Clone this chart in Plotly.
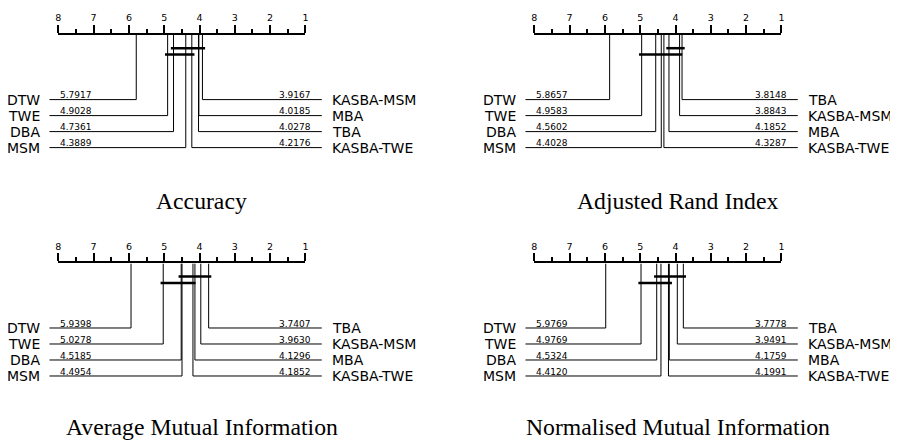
import plotly.graph_objects as go

# ---------------- data ----------------
METHODS = ["DTW", "TWE", "DBA", "MSM", "KASBA-MSM", "MBA", "TBA", "KASBA-TWE"]
ACC_RANKS = [5.7917, 4.9028, 4.7361, 4.3889, 3.9167, 4.0185, 4.0278, 4.2176]
ARI_RANKS = [5.8657, 4.9583, 4.5602, 4.4028, 3.8843, 4.1852, 3.8148, 4.3287]
AMI_RANKS = [5.9398, 5.0278, 4.5185, 4.4954, 3.9630, 4.1296, 3.7407, 4.1852]
NMI_RANKS = [5.9769, 4.9769, 4.5324, 4.4120, 3.9491, 4.1759, 3.7778, 4.1991]

ACC_CLIQUES = [["DBA", "MSM", "KASBA-TWE", "TBA", "MBA", "KASBA-MSM"],
               ["TWE", "DBA", "MSM", "KASBA-TWE"]]
ARI_CLIQUES = [["MBA", "KASBA-MSM", "TBA"],
               ["TWE", "DBA", "MSM", "KASBA-TWE", "MBA", "KASBA-MSM"]]
AMI_CLIQUES = [["DBA", "MSM", "KASBA-TWE", "MBA", "KASBA-MSM", "TBA"],
               ["TWE", "DBA", "MSM", "KASBA-TWE"]]
NMI_CLIQUES = [["DBA", "MSM", "KASBA-TWE", "MBA", "KASBA-MSM", "TBA"],
               ["TWE", "DBA", "MSM", "KASBA-TWE", "MBA"]]

TITLES = ["Accuracy", "Adjusted Rand Index",
          "Average Mutual Information", "Normalised Mutual Information"]
RANK_TICKS = [8, 7, 6, 5, 4, 3, 2, 1]
MINOR_TICKS = [7.5, 6.5, 5.5, 4.5, 3.5, 2.5, 1.5]

PANELS = [
    (ACC_RANKS, ACC_CLIQUES, TITLES[0]),
    (ARI_RANKS, ARI_CLIQUES, TITLES[1]),
    (AMI_RANKS, AMI_CLIQUES, TITLES[2]),
    (NMI_RANKS, NMI_CLIQUES, TITLES[3]),
]

# ---------------- layout constants (pixels, window coords) ----------------
PAGE = 8                     # default body margin of the html page
W, H = 898 - PAGE, 442 - PAGE
SCALE = 35.3                 # px per rank unit
AX_X0 = [58.3 - PAGE, 534.3 - PAGE]   # x of rank 8 per column
AX_Y = [35.0 - PAGE, 263.4 - PAGE]    # y of rank axis per row
PANEL_X = [(0, 441), (441, W)]
PANEL_Y_BOTTOM = [212, H]
TITLE_Y = [201 - PAGE, 427 - PAGE]
TITLE_X_SHIFT = 20
ROW0, ROW_STEP = 64.6, 16.0  # first label line below axis, spacing
CLIQUE_Y = [13.2, 19.5]
CLIQUE_EXT = 0.075
LINE_LEFT_END = 8.25
LINE_RIGHT_END = 0.535
FONT = "DejaVu Sans"

fig = go.Figure()
layout = dict(width=W, height=H, margin=dict(l=0, r=0, t=0, b=0, pad=0),
              paper_bgcolor="white", plot_bgcolor="rgba(0,0,0,0)",
              showlegend=False)
annotations = []

for i, (ranks, cliques, title) in enumerate(PANELS):
    c, r = i % 2, i // 2
    xd = 2 * i + 1
    xv = 2 * i + 2
    yid = i + 1
    xd_name = "x" if xd == 1 else f"x{xd}"
    xv_name = f"x{xv}"
    y_name = "y" if yid == 1 else f"y{yid}"
    depth = PANEL_Y_BOTTOM[r] - AX_Y[r]

    p0, p1 = PANEL_X[c]
    layout["xaxis" if xd == 1 else f"xaxis{xd}"] = dict(
        domain=[p0 / W, p1 / W],
        range=[8 + (AX_X0[c] - p0) / SCALE, 8 - (p1 - AX_X0[c]) / SCALE],
        anchor=y_name, visible=False, fixedrange=True, automargin=False)
    layout[f"xaxis{xv}"] = dict(
        domain=[AX_X0[c] / W, (AX_X0[c] + 7 * SCALE) / W],
        range=[8, 1], anchor=y_name, side="top", automargin=False,
        showline=True, linecolor="black", linewidth=2,
        showgrid=False, zeroline=False,
        tickmode="array", tickvals=RANK_TICKS,
        ticktext=[str(t) for t in RANK_TICKS],
        ticks="outside", ticklen=8, tickwidth=2, tickcolor="black",
        tickfont=dict(family=FONT, size=9.5, color="black"),
        minor=dict(tickmode="array", tickvals=MINOR_TICKS, ticks="outside",
                   ticklen=4, tickwidth=2, tickcolor="black", showgrid=False),
        fixedrange=True)
    layout["yaxis" if yid == 1 else f"yaxis{yid}"] = dict(
        domain=[1 - PANEL_Y_BOTTOM[r] / H, 1 - AX_Y[r] / H],
        range=[depth, 0], anchor=xd_name, visible=False, fixedrange=True,
        automargin=False)

    # keep the visible rank axis subplot alive
    fig.add_trace(go.Scatter(x=RANK_TICKS, y=[0] * len(RANK_TICKS),
                             xaxis=xv_name, yaxis=y_name, mode="markers",
                             marker=dict(opacity=0), hoverinfo="skip"))

    rank_of = dict(zip(METHODS, ranks))
    left = sorted(METHODS, key=lambda m: -rank_of[m])[:4]
    right = sorted(METHODS, key=lambda m: rank_of[m])[:4]

    for k, m in enumerate(left):
        yy = ROW0 + k * ROW_STEP
        rk = rank_of[m]
        fig.add_trace(go.Scatter(x=[rk, rk, LINE_LEFT_END], y=[0, yy, yy],
                                 xaxis=xd_name, yaxis=y_name, mode="lines",
                                 line=dict(color="black", width=1),
                                 hoverinfo="skip"))
        annotations.append(dict(x=LINE_LEFT_END, y=yy, xref=xd_name, yref=y_name,
                                text=m, showarrow=False, xanchor="right",
                                yanchor="middle", xshift=-7,
                                font=dict(family=FONT, size=14, color="black")))
        annotations.append(dict(x=LINE_LEFT_END, y=yy, xref=xd_name, yref=y_name,
                                text=f"{rk:.4f}", showarrow=False, xanchor="left",
                                yanchor="bottom", xshift=9, yshift=-2.5,
                                font=dict(family=FONT, size=9, color="black")))
    for k, m in enumerate(right):
        yy = ROW0 + k * ROW_STEP
        rk = rank_of[m]
        fig.add_trace(go.Scatter(x=[rk, rk, LINE_RIGHT_END], y=[0, yy, yy],
                                 xaxis=xd_name, yaxis=y_name, mode="lines",
                                 line=dict(color="black", width=1),
                                 hoverinfo="skip"))
        annotations.append(dict(x=LINE_RIGHT_END, y=yy, xref=xd_name, yref=y_name,
                                text=m, showarrow=False, xanchor="left",
                                yanchor="middle", xshift=8,
                                font=dict(family=FONT, size=14, color="black")))
        annotations.append(dict(x=LINE_RIGHT_END, y=yy, xref=xd_name, yref=y_name,
                                text=f"{rk:.4f}", showarrow=False, xanchor="right",
                                yanchor="bottom", xshift=-9, yshift=-2.5,
                                font=dict(family=FONT, size=9, color="black")))

    for j, clique in enumerate(cliques):
        vals = [rank_of[m] for m in clique]
        fig.add_trace(go.Scatter(x=[max(vals) + CLIQUE_EXT, min(vals) - CLIQUE_EXT],
                                 y=[CLIQUE_Y[j], CLIQUE_Y[j]],
                                 xaxis=xd_name, yaxis=y_name, mode="lines",
                                 line=dict(color="black", width=2.5),
                                 hoverinfo="skip"))

    annotations.append(dict(x=4.5, y=TITLE_Y[r] - AX_Y[r], xref=xd_name,
                            yref=y_name, text=title, showarrow=False,
                            xanchor="center", yanchor="middle",
                            xshift=TITLE_X_SHIFT,
                            font=dict(family="Liberation Serif", size=23.7,
                                      color="black")))

layout["annotations"] = annotations
fig.update_layout(**layout)
fig.write_html("out.html")
